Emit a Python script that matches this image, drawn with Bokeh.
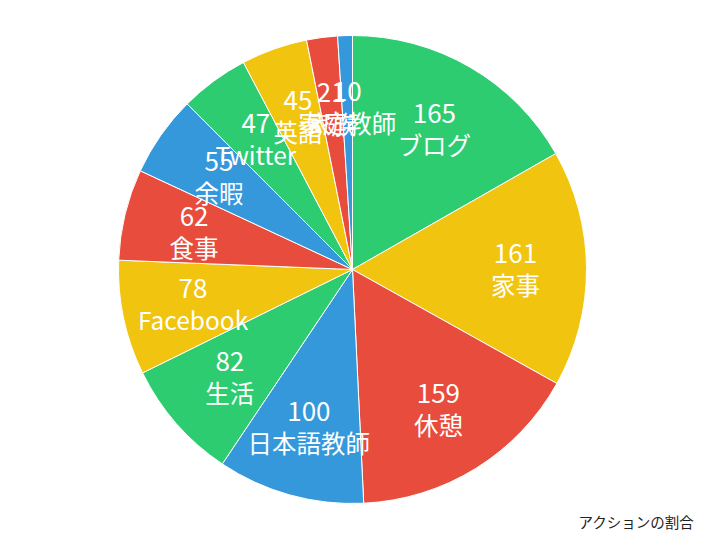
import numpy as np
from bokeh.plotting import figure
from bokeh.models import ColumnDataSource, Range1d, Label
from bokeh.core.properties import value
from bokeh.embed import file_html
from bokeh.resources import INLINE

categories = ["ブログ", "家事", "休憩", "日本語教師", "生活", "Facebook",
              "食事", "余暇", "Twitter", "英語", "家族", "家庭教師"]
values = [165, 161, 159, 100, 82, 78, 62, 55, 47, 45, 21, 10]
palette = ["#2ecc71", "#f1c40f", "#e74c3c", "#3498db"]
title_text = "アクションの割合"

vals = np.array(values, dtype=float)
frac = vals / vals.sum()
cum = np.concatenate([[0.0], np.cumsum(frac)])
start = np.pi / 2 - 2 * np.pi * cum[1:]
end = np.pi / 2 - 2 * np.pi * cum[:-1]
mid = (start + end) / 2
lr = 163 / 234
colors = [palette[i % 4] for i in range(len(values))]

src = ColumnDataSource(dict(
    start=start, end=end, color=colors,
    lx=lr * np.cos(mid), ly=lr * np.sin(mid),
    num=[str(v) for v in values], cat=categories,
))

W, H = 698, 532
R = 234.0
cx, cy = 352, 269
p = figure(width=W, height=H, output_backend="svg", toolbar_location=None,
           x_range=Range1d(-cx / R, (W - cx) / R),
           y_range=Range1d(-(H - cy) / R, cy / R),
           min_border=0, outline_line_color=None)
p.axis.visible = False
p.grid.visible = False
p.background_fill_color = "white"
p.border_fill_color = "white"

p.wedge(x=0, y=0, radius=1.0, start_angle="start", end_angle="end",
        fill_color="color", line_color="white", line_width=1, source=src)

font = value("Noto Sans CJK JP")
p.text(x="lx", y="ly", text="num", source=src, text_font=font,
       text_font_size="26px", text_color="white", text_align="center",
       text_baseline="middle", y_offset=-15)
p.text(x="lx", y="ly", text="cat", source=src, text_font=font,
       text_font_size="24.5px", text_color="white", text_align="center",
       text_baseline="middle", y_offset=16)

p.add_layout(Label(x=694, y=H - 521, x_units="screen", y_units="screen",
                   text=title_text, text_font="Noto Sans CJK JP",
                   text_font_size="14.5px", text_color="#222222",
                   text_align="right", text_baseline="middle"))

open("out.html", "w").write(file_html(p, INLINE))
